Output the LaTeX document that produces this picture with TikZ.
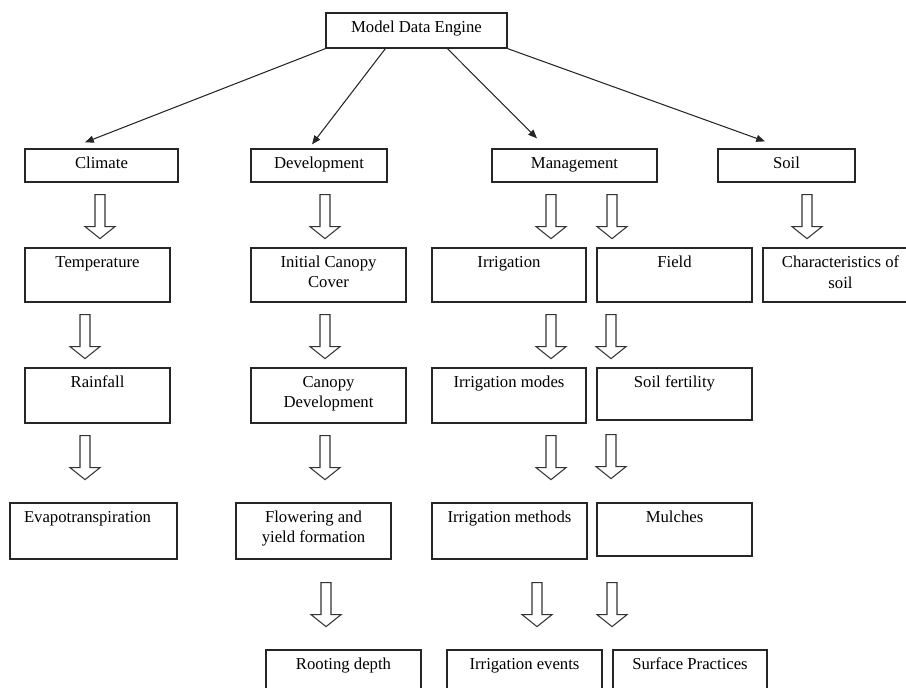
\documentclass[tikz,border=0pt]{standalone}
\usepackage{fontspec}
\setmainfont{Liberation Serif}
\usetikzlibrary{arrows.meta,calc,fit}

\begin{document}
\begin{tikzpicture}[x=0.02cm,y=-0.02cm,>={Triangle[length=5pt,width=4pt]},
  box/.style={draw=black!85,line width=0.7pt,inner sep=0pt},
  txt/.style={anchor=north,yshift=-0.05cm,align=center,
    font=\fontsize{9.5}{11.5}\selectfont},
  link/.style={->,draw=black!85,line width=0.6pt},
  hollow/.pic={\draw[draw=black!80,line width=0.6pt]
    (-5,0) -- (5,0) -- (5,32) -- (15,32) -- (0,44) -- (-15,32) -- (-5,32) -- cycle;}]
  \useasboundingbox (0,0) rectangle (906,687);
  \clip (0,0) rectangle (906,687);

  % top
  \node[box, fit={(326,13) (507,48)}, label={[txt]north:Model Data Engine}] (mde) {};

  % first row
  \node[box, fit={(25,149) (178,182)}, label={[txt]north:Climate}] (climate) {};
  \node[box, fit={(251,149) (387,182)}, label={[txt]north:Development}] (devel) {};
  \node[box, fit={(492,149) (657,182)}, label={[txt]north:Management}] (manage) {};
  \node[box, fit={(718,149) (855,182)}, label={[txt]north:Soil}] (soil) {};

  % second row
  \node[box, fit={(25,248) (170,302)}, label={[txt]north:Temperature}] (temp) {};
  \node[box, fit={(251,248) (406,302)}, label={[txt]north:{Initial Canopy\\Cover}}] (initcc) {};
  \node[box, fit={(432,248) (586,302)}, label={[txt]north:Irrigation}] (irrig) {};
  \node[box, fit={(597,248) (752,302)}, label={[txt]north:Field}] (field) {};
  \node[box, fit={(763,248) (918,302)}, label={[txt]north:{Characteristics of\\soil}}] (charsoil) {};

  % third row
  \node[box, fit={(25,368) (170,423)}, label={[txt]north:Rainfall}] (rain) {};
  \node[box, fit={(251,368) (406,423)}, label={[txt]north:{Canopy\\Development}}] (canopy) {};
  \node[box, fit={(432,368) (586,423)}, label={[txt]north:Irrigation modes}] (irmodes) {};
  \node[box, fit={(597,368) (752,420)}, label={[txt]north:Soil fertility}] (fertil) {};

  % fourth row
  \node[box, fit={(10,503) (177,559)}, label={[txt,xshift=-0.12cm]north:Evapotranspiration}] (evapo) {};
  \node[box, fit={(236,503) (391,559)}, label={[txt]north:{Flowering and\\yield formation}}] (flower) {};
  \node[box, fit={(432,503) (587,559)}, label={[txt]north:Irrigation methods}] (irmeth) {};
  \node[box, fit={(597,503) (752,556)}, label={[txt]north:Mulches}] (mulch) {};

  % fifth row
  \node[box, fit={(266,650) (421,705)}, label={[txt]north:Rooting depth}] (root) {};
  \node[box, fit={(447,650) (602,705)}, label={[txt]north:Irrigation events}] (irevents) {};
  \node[box, fit={(613,650) (767,705)}, label={[txt]north:Surface Practices}] (surface) {};

  % thin arrows
  \draw[link] (mde.south west) -- ($(climate.north)+(-16.5,-6)$);
  \draw[link] ($(mde.south west)+(60,0)$) -- ($(devel.north)+(-7,-4)$);
  \draw[link] ($(mde.south west)+(122,0)$) -- ($(manage.north)+(-37.5,-10)$);
  \draw[link] (mde.south east) -- ($(soil.north)+(-21.5,-7)$);

  % hollow arrows
  \pic at ($(climate.south)+(-1.5,12)$) {hollow};
  \pic at ($(devel.south)+(6,12)$) {hollow};
  \pic at ($(manage.south)+(-23.5,12)$) {hollow};
  \pic at ($(manage.south)+(37.5,12)$) {hollow};
  \pic at ($(soil.south)+(20.5,12)$) {hollow};

  \pic at ($(temp.south)+(-12.5,12)$) {hollow};
  \pic at ($(initcc.south)+(-3.5,12)$) {hollow};
  \pic at ($(irrig.south)+(42,12)$) {hollow};
  \pic at ($(field.south)+(-63.5,12)$) {hollow};

  \pic at ($(rain.south)+(-12.5,12)$) {hollow};
  \pic at ($(canopy.south)+(-3.5,12)$) {hollow};
  \pic at ($(irmodes.south)+(42,12)$) {hollow};
  \pic at ($(fertil.south)+(-63.5,14)$) {hollow};

  \pic at ($(flower.south)+(12.5,23)$) {hollow};
  \pic at ($(irmeth.south)+(27.5,23)$) {hollow};
  \pic at ($(mulch.south)+(-62.5,26)$) {hollow};
\end{tikzpicture}
\end{document}
